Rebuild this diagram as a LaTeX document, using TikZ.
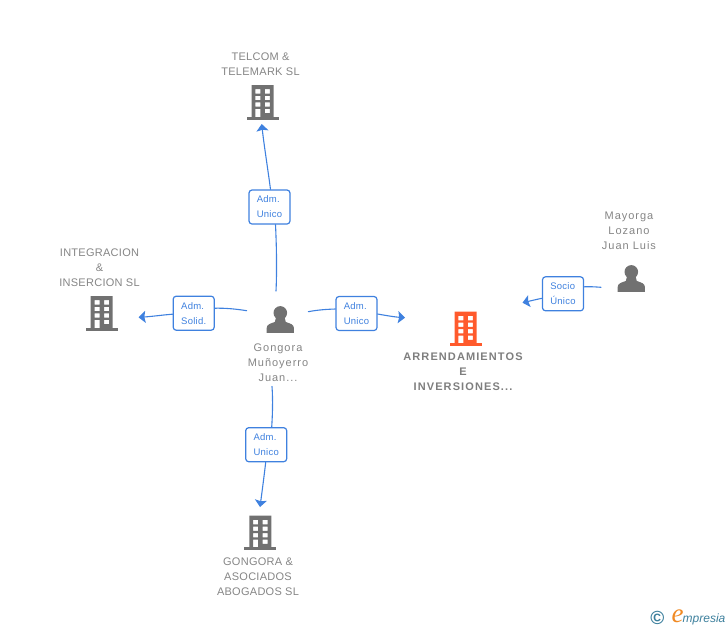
\documentclass[tikz,border=0pt]{standalone}
\usepackage{fontspec}
\setmainfont{Liberation Sans}[LetterSpace=2.5]
\newfontfamily\boldlabel{Liberation Sans Bold}[LetterSpace=10]
\newfontfamily\personlabel{Liberation Sans}[LetterSpace=9]
\newfontfamily\logofont{Liberation Serif}
\newfontfamily\logosans{Liberation Sans}
\usetikzlibrary{arrows.meta}
\definecolor{linkblue}{HTML}{3F81DF}
\definecolor{icongrey}{HTML}{717171}
\definecolor{labelgrey}{HTML}{858585}
\definecolor{mainorange}{HTML}{FF5A2C}
\definecolor{logoteal}{HTML}{3C7F9C}
\definecolor{logoorange}{HTML}{F08A24}
\tikzset{
  link/.style={draw=linkblue,line width=1.1pt,line cap=round},
  arrowlink/.style={link,-{Stealth[length=7pt,width=12pt,inset=1.2pt]}},
  rolebox/.style={draw=linkblue,line width=1.2pt,rounded corners=3pt,fill=white,minimum width=41pt,minimum height=34pt,inner sep=0pt,align=left,text=linkblue,font=\fontsize{9.5}{15}\selectfont},
  lbl/.style={text=labelgrey,align=center,inner sep=0pt,font=\fontsize{11}{15}\selectfont},
  personlbl/.style={lbl,font=\fontsize{11}{15}\personlabel},
  mainlbl/.style={lbl,font=\fontsize{11}{15}\boldlabel,text=labelgrey!95!black},
  pics/buildingicon/.style={code={
    \fill[#1,even odd rule] (-11,-17) rectangle (11,15)
      (-7.2,-12.8) rectangle (-2.2,-8.4) (2.4,-12.8) rectangle (7.4,-8.4)
      (-7.2,-6.2) rectangle (-2.2,-1.9) (2.4,-6.2) rectangle (7.4,-1.9)
      (-7.2,0.3) rectangle (-2.2,4.6) (2.4,0.3) rectangle (7.4,4.6)
      (-7.2,6.8) rectangle (-2.2,15) (2.4,6.8) rectangle (7.4,11.2);
    \fill[#1] (-16,14.5) rectangle (16,17.5);
  }},
  pics/personicon/.style={code={
    \fill[icongrey] (0,-6.6) ellipse (6.8 and 6.8);
    \fill[icongrey] (-13.6,13.3) -- (-13.6,8.5) .. controls (-13.6,5) and (-10,4) .. (-5.5,2.5)
      -- (-4,-3) -- (4,-3) -- (5.5,2.5) .. controls (10,4) and (13.6,5) .. (13.6,8.5) -- (13.6,13.3) -- cycle;
  }},
}
\begin{document}
\begin{tikzpicture}[x=1pt,y=-1pt]
\useasboundingbox (0,0) rectangle (728,630);
% icons
\pic at (262.5,102) {buildingicon=icongrey};
\pic at (101.7,313) {buildingicon=icongrey};
\pic at (260.3,532.7) {buildingicon=icongrey};
\pic at (465.5,328.7) {buildingicon=mainorange};
\pic at (280.3,319.5) {personicon};
\pic at (631.3,278.5) {personicon};
% labels
\node[lbl] (telcom) at (260.5,64) {TELCOM \&\\TELEMARK SL};
\node[lbl] (integ) at (99.5,267.5) {INTEGRACION\\\&\\INSERCION SL};
\node[personlbl] (gongora) at (278,362.5) {Gongora\\Muñoyerro\\Juan...};
\node[mainlbl] (arrend) at (463,371.5) {ARRENDAMIENTOS\\E\\INVERSIONES...};
\node[personlbl] (mayorga) at (629,230.5) {Mayorga\\Lozano\\Juan Luis};
\node[lbl] (gongabog) at (258,576.5) {GONGORA \&\\ASOCIADOS\\ABOGADOS SL};
% role boxes
\node[rolebox] (boxtelcom) at (269.5,207) {Adm.\\Unico};
\node[rolebox] (boxinteg) at (193.7,313.2) {Adm.\\Solid.};
\node[rolebox] (boxarrend) at (356.5,313.5) {Adm.\\Unico};
\node[rolebox] (boxsocio) at (563,293.8) {Socio\\Único};
\node[rolebox] (boxabog) at (266.2,444.7) {Adm.\\Unico};
% free ends
\coordinate (gnorth) at (276,291);
\coordinate (gwest) at (246.7,310.7);
\coordinate (geast) at (308.3,311.7);
\coordinate (gsouth) at (272,386.5);
\coordinate (meast) at (601,287.3);
\coordinate (tiptelcom) at (261.7,124);
\coordinate (tipinteg) at (138.5,317.3);
\coordinate (tiparrend) at (405,317.7);
\coordinate (tipsocio) at (522.5,302.7);
\coordinate (tipabog) at (260,507);
% connectors
\draw[link] (gnorth) .. controls (277,270) and (276.5,245) .. ([xshift=6pt]boxtelcom.south);
\draw[arrowlink] ([xshift=1pt]boxtelcom.north) .. controls (268,170) and (264,145) .. (tiptelcom);
\draw[link] (gwest) .. controls (236,309) and (226,308) .. ([yshift=5pt]boxinteg.east);
\draw[arrowlink] ([yshift=-1pt]boxinteg.west) .. controls (162,315) and (152,316.5) .. (tipinteg);
\draw[link] (geast) .. controls (317,310) and (326,309.3) .. ([yshift=4.5pt]boxarrend.west);
\draw[arrowlink] ([yshift=-0.5pt]boxarrend.east) .. controls (386,315.5) and (395,317) .. (tiparrend);
\draw[link] (meast) .. controls (595,286.8) and (590,286.6) .. ([yshift=7pt]boxsocio.east);
\draw[arrowlink] ([yshift=-4.5pt]boxsocio.west) .. controls (536,299.5) and (530,301) .. (tipsocio);
\draw[link] (gsouth) .. controls (273,400) and (272.5,415) .. ([xshift=5.5pt]boxabog.north);
\draw[arrowlink] ([xshift=-0.5pt]boxabog.south) .. controls (264,477) and (262,492) .. (tipabog);
% logo
\node[text=logoteal,inner sep=0pt,font=\fontsize{19}{19}\logosans\bfseries] (copyr) at (657.3,618.3) {©};
\node[text=logoorange,inner sep=0pt,font=\fontsize{27}{27}\logofont\itshape] (logoe) at (677.5,616) {e};
\node[text=logoteal,inner sep=0pt,anchor=west,font=\fontsize{12}{13}\logosans\itshape] (logotext) at (682.5,619) {mpresia};
\end{tikzpicture}
\end{document}
